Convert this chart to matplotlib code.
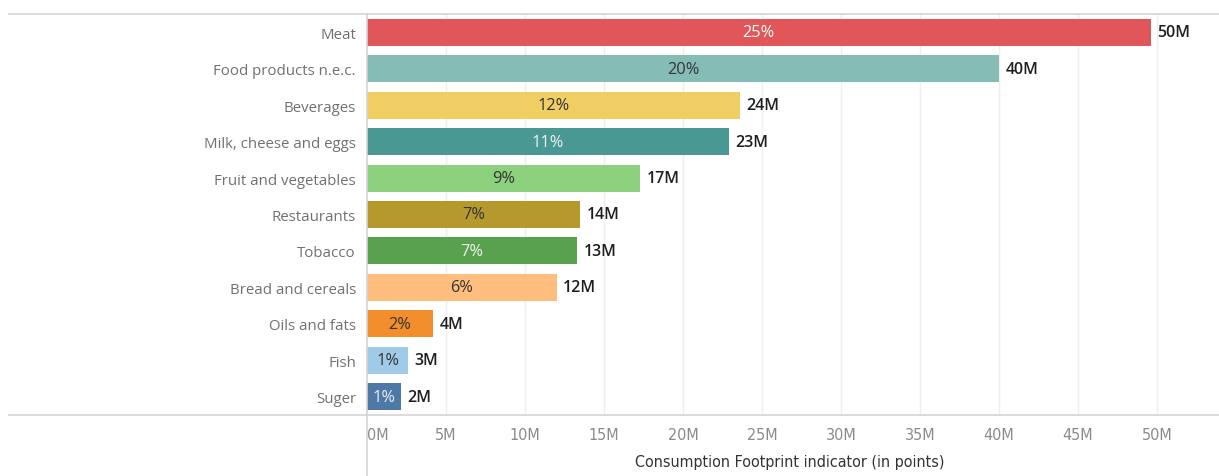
import matplotlib
matplotlib.use("Agg")
import matplotlib.pyplot as plt
from matplotlib.lines import Line2D
from matplotlib import font_manager

# Consumption footprint by product group (millions of points)
categories = ["Meat", "Food products n.e.c.", "Beverages", "Milk, cheese and eggs",
              "Fruit and vegetables", "Restaurants", "Tobacco", "Bread and cereals",
              "Oils and fats", "Fish", "Suger"]
values = [49.6, 40.0, 23.6, 22.9, 17.3, 13.5, 13.3, 12.0, 4.2, 2.6, 2.15]
colors = ["#E15759", "#86BCB6", "#F1CE63", "#499894", "#8CD17D", "#B6992D",
          "#59A14F", "#FFBE7D", "#F28E2B", "#A0CBE8", "#4E79A7"]
pct_text_colors = ["#ffffff", "#333333", "#333333", "#f2f2f2", "#333333", "#333333",
                   "#f2f2f2", "#333333", "#333333", "#333333", "#e8eef5"]
xticks = [0, 5, 10, 15, 20, 25, 30, 35, 40, 45, 50]
xtick_labels = [f"{t}M" for t in xticks]

# pick a narrow face for the axis if one is available
installed = {f.name for f in font_manager.fontManager.ttflist}
narrow = [n for n in ["Liberation Sans Narrow", "DejaVu Sans Condensed"] if n in installed]
narrow_family = narrow + ["DejaVu Sans"]
narrow_stretch = "normal" if narrow else "condensed"

W, H = 1219, 477
fig = plt.figure(figsize=(W / 100, H / 100), dpi=100)
left_px, right_px, top_px, bottom_px = 367, 1212, 15, 416
ax = fig.add_axes([left_px / W, 1 - bottom_px / H,
                   (right_px - left_px) / W, (bottom_px - top_px) / H])

px_per_unit = 79 / 5
xmax = (right_px - left_px) / px_per_unit
ax.set_xlim(0, xmax)
ax.set_ylim(len(categories) - 0.5, -0.5)

total = sum(values)
ypos = list(range(len(categories)))
ax.barh(ypos, values, height=0.74, color=colors, edgecolor="none", zorder=3)

for y, v, c in zip(ypos, values, pct_text_colors):
    pct = round(v / total * 100)
    ax.text(v / 2, y, f"{pct}%", ha="center", va="center", fontsize=11.8,
            color=c, family=["Open Sans", "DejaVu Sans"], zorder=4)
    ax.text(v + 0.4, y, f"{round(v)}M", ha="left", va="center", fontsize=11.5,
            color="#1f1f1f", fontweight="semibold",
            family=["Open Sans", "DejaVu Sans"], zorder=4)

# grid
for t in xticks[1:]:
    ax.axvline(t, color="#efefef", lw=1, zorder=1)

ax.set_yticks(ypos)
ax.set_yticklabels(categories, fontsize=10.8, color="#707070",
                   family=["Open Sans", "DejaVu Sans"])
ax.tick_params(axis="y", length=0, pad=8)

ax.set_xticks(xticks)
ax.set_xticklabels(xtick_labels, fontsize=11.5, color="#8a8a8a",
                   family=narrow_family, fontstretch=narrow_stretch)
ax.tick_params(axis="x", length=0, pad=9)
ax.get_xticklabels()[0].set_horizontalalignment("left")

ax.set_xlabel("Consumption Footprint indicator (in points)", fontsize=11.5,
              color="#333333", family=narrow_family, fontstretch=narrow_stretch,
              labelpad=8)

for s in ax.spines.values():
    s.set_visible(False)

# frame lines
line_color = "#d4d4d4"
fig.add_artist(Line2D([9 / W, 1.0], [1 - top_px / H] * 2, color=line_color, lw=1.2))
fig.add_artist(Line2D([9 / W, 1.0], [1 - bottom_px / H] * 2, color=line_color, lw=1.2))
fig.add_artist(Line2D([left_px / W] * 2, [0, 1 - top_px / H], color=line_color, lw=1.2))

fig.savefig("out.png", dpi=100, facecolor="white")
